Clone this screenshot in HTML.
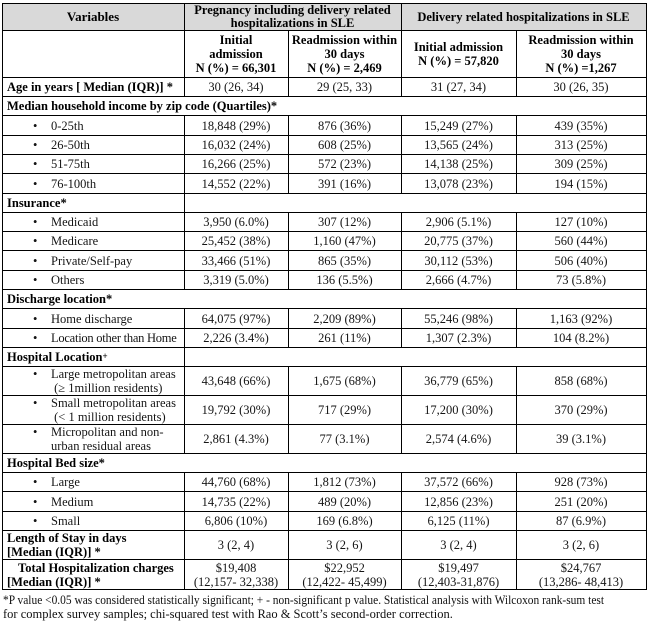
<!DOCTYPE html>
<html><head><meta charset="utf-8">
<style>
body{margin:0;background:#fff}
#c{position:relative;width:649px;height:622px;overflow:hidden;background:#fff;font-family:"Liberation Serif","Times New Roman",serif;font-size:12.5px;color:#151515}
.h{position:absolute;left:2px;width:645px;height:1px;background:#000}
.v{position:absolute;width:1px;background:#000}
.r{position:absolute;left:2px;width:644px;display:grid;grid-template-columns:182px 104px 113px 115px 130px}
.r>div{display:flex;align-items:center;justify-content:center;text-align:center;line-height:14px;white-space:nowrap}
.r>div.f{justify-content:flex-start;text-align:left;padding-left:5px}
.r>div.i{padding-left:31px}
.w{display:flex;align-items:flex-start}
.bu{display:inline-block;width:18px}
.b{font-weight:bold;color:#000}
.s{position:absolute;left:7px;display:flex;align-items:center;white-space:nowrap;font-weight:bold;color:#000}
.gray{position:absolute;left:2px;top:3px;width:644px;height:27px;background:#d9d9d9}
.fn{position:absolute;left:3px;top:593px;line-height:14px;white-space:nowrap;color:#111}
.sq{display:inline-block;transform:scaleX(0.915);transform-origin:0 50%}
</style></head><body>
<div id="c">
<div class="gray"></div>

<!-- header row -->
<div class="r" style="top:4px;height:26px">
<div class="b" style="font-size:13px">Variables</div>
<div class="b" style="grid-column:2 / 4;line-height:13px">Pregnancy including delivery related<br>hospitalizations in SLE</div>
<div class="b" style="grid-column:4 / 6">Delivery related hospitalizations in SLE</div>
</div>

<!-- subheader -->
<div class="r" style="top:31px;height:46px">
<div></div>
<div class="b">Initial<br>admission<br>N (%) = 66,301</div>
<div class="b">Readmission within<br>30 days<br>N (%) = 2,469</div>
<div class="b">Initial admission<br>N (%) = 57,820</div>
<div class="b">Readmission within<br>30 days<br>N (%) =1,267</div>
</div>

<!-- age -->
<div class="r" style="top:78px;height:18px">
<div class="f b">Age in years [ Median (IQR)] *</div>
<div>30 (26, 34)</div><div>29 (25, 33)</div><div>31 (27, 34)</div><div>30 (26, 35)</div>
</div>

<div class="s" style="top:97px;height:18px">Median household income by zip code (Quartiles)*</div>

<div class="r" style="top:116px;height:19px">
<div class="f i"><span class="bu">•</span>0-25th</div>
<div>18,848 (29%)</div><div>876 (36%)</div><div>15,249 (27%)</div><div>439 (35%)</div>
</div>
<div class="r" style="top:136px;height:18px">
<div class="f i"><span class="bu">•</span>26-50th</div>
<div>16,032 (24%)</div><div>608 (25%)</div><div>13,565 (24%)</div><div>313 (25%)</div>
</div>
<div class="r" style="top:155px;height:18px">
<div class="f i"><span class="bu">•</span>51-75th</div>
<div>16,266 (25%)</div><div>572 (23%)</div><div>14,138 (25%)</div><div>309 (25%)</div>
</div>
<div class="r" style="top:174px;height:19px">
<div class="f i"><span class="bu">•</span>76-100th</div>
<div>14,552 (22%)</div><div>391 (16%)</div><div>13,078 (23%)</div><div>194 (15%)</div>
</div>

<div class="s" style="top:194px;height:18px">Insurance*</div>

<div class="r" style="top:213px;height:18px">
<div class="f i"><span class="bu">•</span>Medicaid</div>
<div>3,950 (6.0%)</div><div>307 (12%)</div><div>2,906 (5.1%)</div><div>127 (10%)</div>
</div>
<div class="r" style="top:232px;height:18px">
<div class="f i"><span class="bu">•</span>Medicare</div>
<div>25,452 (38%)</div><div>1,160 (47%)</div><div>20,775 (37%)</div><div>560 (44%)</div>
</div>
<div class="r" style="top:251px;height:19px">
<div class="f i"><span class="bu">•</span>Private/Self-pay</div>
<div>33,466 (51%)</div><div>865 (35%)</div><div>30,112 (53%)</div><div>506 (40%)</div>
</div>
<div class="r" style="top:271px;height:18px">
<div class="f i"><span class="bu">•</span>Others</div>
<div>3,319 (5.0%)</div><div>136 (5.5%)</div><div>2,666 (4.7%)</div><div>73 (5.8%)</div>
</div>

<div class="s" style="top:290px;height:18px">Discharge location*</div>

<div class="r" style="top:309px;height:19px">
<div class="f i"><span class="bu">•</span>Home discharge</div>
<div>64,075 (97%)</div><div>2,209 (89%)</div><div>55,246 (98%)</div><div>1,163 (92%)</div>
</div>
<div class="r" style="top:329px;height:18px">
<div class="f i"><span class="bu">•</span><span style="letter-spacing:-0.25px">Location other than Home</span></div>
<div>2,226 (3.4%)</div><div>261 (11%)</div><div>1,307 (2.3%)</div><div>104 (8.2%)</div>
</div>

<div class="s" style="top:348px;height:18px">Hospital Location<sup style="font-size:9px;line-height:0;position:relative;top:-1px">+</sup></div>

<div class="r" style="top:367px;height:28px">
<div class="f i"><span class="w"><span class="bu">•</span><span>Large metropolitan areas<br>&nbsp;(≥ 1million residents)</span></span></div>
<div>43,648 (66%)</div><div>1,675 (68%)</div><div>36,779 (65%)</div><div>858 (68%)</div>
</div>
<div class="r" style="top:396px;height:28px">
<div class="f i"><span class="w"><span class="bu">•</span><span>Small metropolitan areas<br>&nbsp;(&lt; 1 million residents)</span></span></div>
<div>19,792 (30%)</div><div>717 (29%)</div><div>17,200 (30%)</div><div>370 (29%)</div>
</div>
<div class="r" style="top:425px;height:28px">
<div class="f i"><span class="w"><span class="bu">•</span><span>Micropolitan and non-<br>urban residual areas</span></span></div>
<div>2,861 (4.3%)</div><div>77 (3.1%)</div><div>2,574 (4.6%)</div><div>39 (3.1%)</div>
</div>

<div class="s" style="top:454px;height:18px">Hospital Bed size*</div>

<div class="r" style="top:473px;height:18px">
<div class="f i"><span class="bu">•</span>Large</div>
<div>44,760 (68%)</div><div>1,812 (73%)</div><div>37,572 (66%)</div><div>928 (73%)</div>
</div>
<div class="r" style="top:492px;height:19px">
<div class="f i"><span class="bu">•</span>Medium</div>
<div>14,735 (22%)</div><div>489 (20%)</div><div>12,856 (23%)</div><div>251 (20%)</div>
</div>
<div class="r" style="top:512px;height:18px">
<div class="f i"><span class="bu">•</span>Small</div>
<div>6,806 (10%)</div><div>169 (6.8%)</div><div>6,125 (11%)</div><div>87 (6.9%)</div>
</div>

<div class="r" style="top:531px;height:28px">
<div class="f b">Length of Stay in days<br>[Median (IQR)] *</div>
<div>3 (2, 4)</div><div>3 (2, 6)</div><div>3 (2, 4)</div><div>3 (2, 6)</div>
</div>
<div class="r" style="top:560px;height:29px">
<div class="f b"><span><span style="margin-left:11px">Total Hospitalization charges</span><br>[Median (IQR)] *</span></div>
<div>$19,408<br>(12,157- 32,338)</div><div>$22,952<br>(12,422- 45,499)</div><div>$19,497<br>(12,403-31,876)</div><div>$24,767<br>(13,286- 48,413)</div>
</div>

<!-- horizontal lines -->
<div class="h" style="top:3px"></div>
<div class="h" style="top:30px"></div>
<div class="h" style="top:77px"></div>
<div class="h" style="top:96px"></div>
<div class="h" style="top:115px"></div>
<div class="h" style="top:135px"></div>
<div class="h" style="top:154px"></div>
<div class="h" style="top:173px"></div>
<div class="h" style="top:193px"></div>
<div class="h" style="top:212px"></div>
<div class="h" style="top:231px"></div>
<div class="h" style="top:250px"></div>
<div class="h" style="top:270px"></div>
<div class="h" style="top:289px"></div>
<div class="h" style="top:308px"></div>
<div class="h" style="top:328px"></div>
<div class="h" style="top:347px"></div>
<div class="h" style="top:366px"></div>
<div class="h" style="top:395px"></div>
<div class="h" style="top:424px"></div>
<div class="h" style="top:453px"></div>
<div class="h" style="top:472px"></div>
<div class="h" style="top:491px"></div>
<div class="h" style="top:511px"></div>
<div class="h" style="top:530px"></div>
<div class="h" style="top:559px"></div>
<div class="h" style="top:589px"></div>

<!-- vertical lines -->
<div class="v" style="left:2px;top:3px;height:587px"></div>
<div class="v" style="left:646px;top:3px;height:587px"></div>

<div class="v" style="left:184px;top:3px;height:93px"></div>
<div class="v" style="left:184px;top:115px;height:174px"></div>
<div class="v" style="left:184px;top:308px;height:145px"></div>
<div class="v" style="left:184px;top:472px;height:118px"></div>

<div class="v" style="left:288px;top:30px;height:66px"></div>
<div class="v" style="left:288px;top:115px;height:78px"></div>
<div class="v" style="left:288px;top:212px;height:77px"></div>
<div class="v" style="left:288px;top:308px;height:39px"></div>
<div class="v" style="left:288px;top:366px;height:87px"></div>
<div class="v" style="left:288px;top:472px;height:118px"></div>

<div class="v" style="left:401px;top:3px;height:93px"></div>
<div class="v" style="left:401px;top:115px;height:78px"></div>
<div class="v" style="left:401px;top:212px;height:77px"></div>
<div class="v" style="left:401px;top:308px;height:39px"></div>
<div class="v" style="left:401px;top:366px;height:87px"></div>
<div class="v" style="left:401px;top:472px;height:118px"></div>

<div class="v" style="left:516px;top:30px;height:66px"></div>
<div class="v" style="left:516px;top:115px;height:78px"></div>
<div class="v" style="left:516px;top:212px;height:77px"></div>
<div class="v" style="left:516px;top:308px;height:39px"></div>
<div class="v" style="left:516px;top:366px;height:87px"></div>
<div class="v" style="left:516px;top:472px;height:118px"></div>

<div class="fn"><span class="sq">*P value &lt;0.05 was considered statistically significant; + - non-significant p value. Statistical analysis with Wilcoxon rank-sum test</span><br>for complex survey samples; chi-squared test with Rao &amp; Scott’s second-order correction.</div>
</div>
</body></html>
